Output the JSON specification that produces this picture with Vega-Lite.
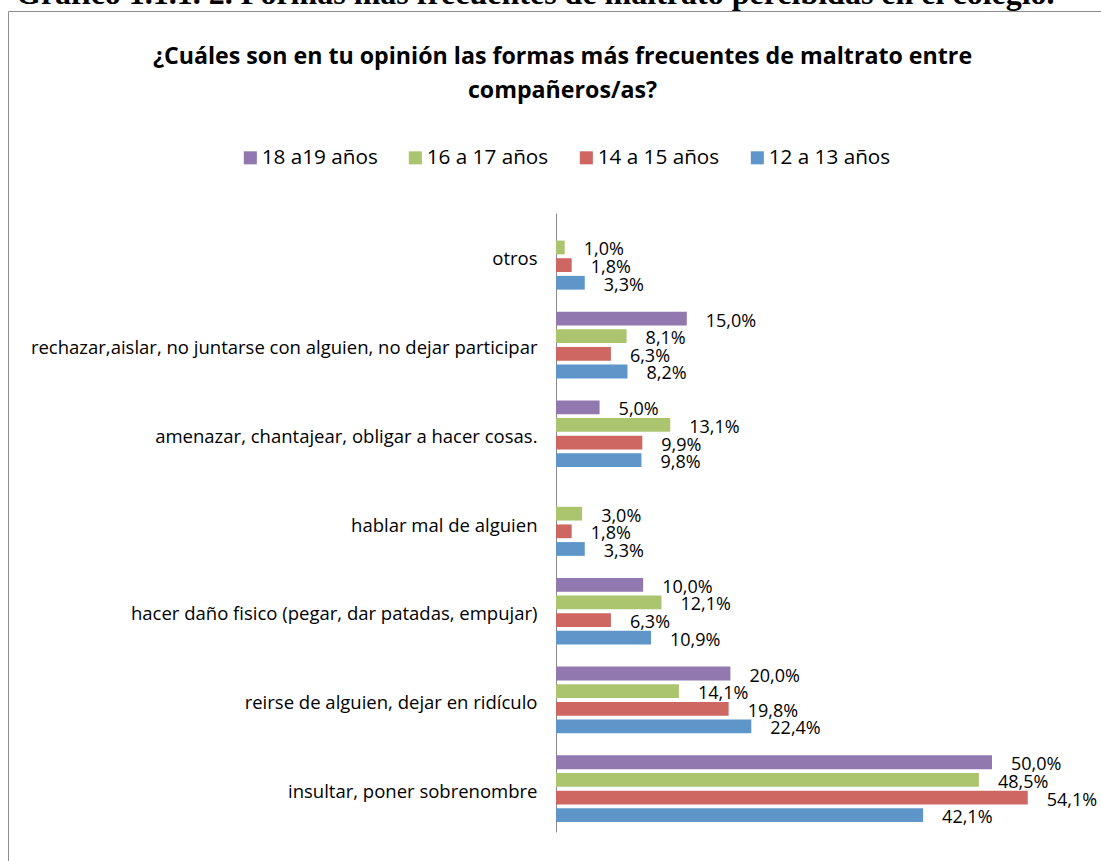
{
  "$schema": "https://vega.github.io/schema/vega-lite/v6.json",
  "autosize": {"type": "none"},
  "width": 1108,
  "height": 870,
  "padding": {"left": 8, "top": 11, "right": -15, "bottom": -20},
  "background": "white",
  "config": {
    "locale": {"number": {"decimal": ",", "thousands": ".", "grouping": [3], "currency": ["", " €"]}},
    "view": {"stroke": "#8c8c8c", "strokeWidth": 1},
    "font": "Open Sans"
  },
  "title": {
    "text": "Gráfico 1.1.1. 2. Formas más frecuentes de maltrato percibidas en el colegio.",
    "font": "Liberation Serif",
    "fontSize": 32,
    "fontWeight": "bold",
    "color": "black",
    "anchor": "start",
    "frame": "group",
    "dx": 8,
    "offset": 0
  },
  "data": {
    "values": [
      {"cat": "otros", "grp": "16 a 17 años", "v": 0.010},
      {"cat": "otros", "grp": "14 a 15 años", "v": 0.018},
      {"cat": "otros", "grp": "12 a 13 años", "v": 0.033},
      {"cat": "rechazar,aislar, no juntarse con alguien, no dejar participar", "grp": "18 a19 años", "v": 0.150},
      {"cat": "rechazar,aislar, no juntarse con alguien, no dejar participar", "grp": "16 a 17 años", "v": 0.081},
      {"cat": "rechazar,aislar, no juntarse con alguien, no dejar participar", "grp": "14 a 15 años", "v": 0.063},
      {"cat": "rechazar,aislar, no juntarse con alguien, no dejar participar", "grp": "12 a 13 años", "v": 0.082},
      {"cat": "amenazar, chantajear, obligar a hacer cosas.", "grp": "18 a19 años", "v": 0.050},
      {"cat": "amenazar, chantajear, obligar a hacer cosas.", "grp": "16 a 17 años", "v": 0.131},
      {"cat": "amenazar, chantajear, obligar a hacer cosas.", "grp": "14 a 15 años", "v": 0.099},
      {"cat": "amenazar, chantajear, obligar a hacer cosas.", "grp": "12 a 13 años", "v": 0.098},
      {"cat": "hablar mal de alguien", "grp": "16 a 17 años", "v": 0.030},
      {"cat": "hablar mal de alguien", "grp": "14 a 15 años", "v": 0.018},
      {"cat": "hablar mal de alguien", "grp": "12 a 13 años", "v": 0.033},
      {"cat": "hacer daño fisico (pegar, dar patadas, empujar)", "grp": "18 a19 años", "v": 0.100},
      {"cat": "hacer daño fisico (pegar, dar patadas, empujar)", "grp": "16 a 17 años", "v": 0.121},
      {"cat": "hacer daño fisico (pegar, dar patadas, empujar)", "grp": "14 a 15 años", "v": 0.063},
      {"cat": "hacer daño fisico (pegar, dar patadas, empujar)", "grp": "12 a 13 años", "v": 0.109},
      {"cat": "reirse de alguien, dejar en ridículo", "grp": "18 a19 años", "v": 0.200},
      {"cat": "reirse de alguien, dejar en ridículo", "grp": "16 a 17 años", "v": 0.141},
      {"cat": "reirse de alguien, dejar en ridículo", "grp": "14 a 15 años", "v": 0.198},
      {"cat": "reirse de alguien, dejar en ridículo", "grp": "12 a 13 años", "v": 0.224},
      {"cat": "insultar, poner sobrenombre", "grp": "18 a19 años", "v": 0.500},
      {"cat": "insultar, poner sobrenombre", "grp": "16 a 17 años", "v": 0.485},
      {"cat": "insultar, poner sobrenombre", "grp": "14 a 15 años", "v": 0.541},
      {"cat": "insultar, poner sobrenombre", "grp": "12 a 13 años", "v": 0.421}
    ]
  },
  "encoding": {
    "x": {
      "field": "v",
      "type": "quantitative",
      "scale": {"domain": [-0.6284, 0.6422], "nice": false, "zero": false},
      "axis": null
    },
    "y": {
      "field": "cat",
      "type": "nominal",
      "sort": ["otros", "rechazar,aislar, no juntarse con alguien, no dejar participar", "amenazar, chantajear, obligar a hacer cosas.", "hablar mal de alguien", "hacer daño fisico (pegar, dar patadas, empujar)", "reirse de alguien, dejar en ridículo", "insultar, poner sobrenombre"],
      "scale": {"range": [202, 821], "paddingInner": 0.2045, "paddingOuter": 0.09},
      "axis": {
        "orient": "left",
        "offset": -548,
        "title": ["¿Cuáles son en tu opinión las formas más frecuentes de maltrato entre", "compañeros/as?"],
        "titleX": 6,
        "titleY": 52,
        "titleAngle": 0,
        "titleAlign": "center",
        "titleBaseline": "alphabetic",
        "titleFont": "Open Sans",
        "titleFontSize": 23.2,
        "titleFontWeight": "bold",
        "titleColor": "black",
        "titleLineHeight": 34,
        "titleLimit": 2000,
        "ticks": false,
        "grid": false,
        "domainColor": "#8c8c8c",
        "domainWidth": 1,
        "labelFont": "Open Sans",
        "labelFontSize": 18.5,
        "labelColor": "black",
        "labelPadding": 19,
        "labelOffset": 3,
        "labelLimit": 700
      }
    },
    "yOffset": {
      "field": "grp",
      "type": "nominal",
      "sort": ["18 a19 años", "16 a 17 años", "14 a 15 años", "12 a 13 años"],
      "scale": {"domain": ["18 a19 años", "16 a 17 años", "14 a 15 años", "12 a 13 años"], "paddingInner": 0.22, "paddingOuter": 0.11}
    }
  },
  "layer": [
    {
      "mark": {"type": "bar"},
      "encoding": {
        "color": {
          "field": "grp",
          "type": "nominal",
          "scale": {
            "domain": ["18 a19 años", "16 a 17 años", "14 a 15 años", "12 a 13 años"],
            "range": ["#9179B0", "#ABC56F", "#CE6661", "#5F96C9"]
          },
          "legend": {
            "orient": "none",
            "legendX": 232,
            "legendY": 136,
            "direction": "horizontal",
            "title": null,
            "symbolType": "square",
            "symbolSize": 170,
            "symbolStrokeWidth": 0,
            "labelFont": "Open Sans",
            "labelFontSize": 20.7,
            "labelColor": "black",
            "labelOffset": 1,
            "columnPadding": 27,
            "labelLimit": 300
          }
        }
      }
    },
    {
      "mark": {"type": "text", "align": "left", "baseline": "middle", "dx": 19, "dy": 3, "fontSize": 18, "font": "Open Sans", "color": "black"},
      "encoding": {
        "text": {"field": "v", "type": "quantitative", "format": ".1%"}
      }
    }
  ]
}
